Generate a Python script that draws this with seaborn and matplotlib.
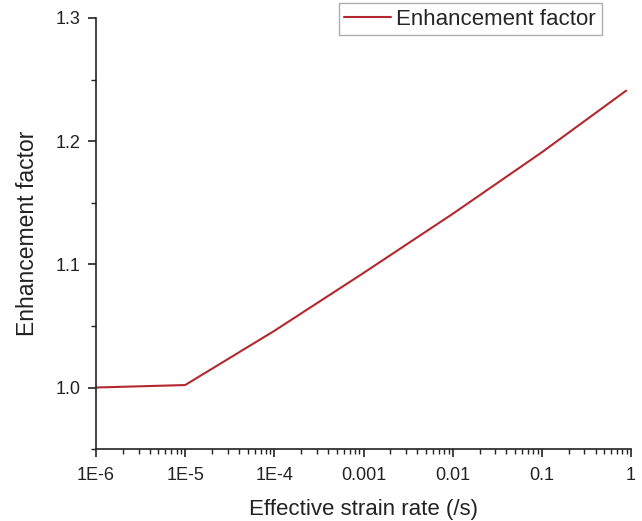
import matplotlib
matplotlib.use("Agg")
import matplotlib.pyplot as plt
import seaborn as sns
import pandas as pd
from matplotlib.ticker import LogLocator, MultipleLocator, NullFormatter

strain_rate = [1e-6, 1e-5, 1e-4, 1e-3, 1e-2, 1e-1, 0.88]
factor = [1.000, 1.002, 1.046, 1.093, 1.141, 1.191, 1.241]
xtick_vals = [1e-6, 1e-5, 1e-4, 1e-3, 1e-2, 1e-1, 1]
xtick_labels = ["1E-6", "1E-5", "1E-4", "0.001", "0.01", "0.1", "1"]
ytick_vals = [1.0, 1.1, 1.2, 1.3]
ytick_labels = ["1.0", "1.1", "1.2", "1.3"]

sns.set_style("ticks")
plt.rcParams['font.family'] = ['Liberation Sans', 'DejaVu Sans']

df = pd.DataFrame({"rate": strain_rate, "factor": factor, "series": "Enhancement factor"})

fig = plt.figure(figsize=(6.42, 5.21), dpi=100)
ax = fig.add_axes([0.1495, 0.138, 0.8335, 0.8275])
sns.lineplot(data=df, x="rate", y="factor", hue="series", palette=["#B3282E"],
             linewidth=1.5, ax=ax)
ax.set_xscale("log")
ax.set_xlim(1e-6, 1)
ax.set_ylim(0.95, 1.3)
ax.set_xticks(xtick_vals)
ax.set_xticklabels(xtick_labels)
ax.xaxis.set_minor_locator(LogLocator(base=10, subs=range(2, 10), numticks=20))
ax.xaxis.set_minor_formatter(NullFormatter())
ax.set_yticks(ytick_vals)
ax.set_yticklabels(ytick_labels)
ax.yaxis.set_minor_locator(MultipleLocator(0.05))

for s in ["top", "right"]:
    ax.spines[s].set_visible(False)
for s in ["left", "bottom"]:
    ax.spines[s].set_linewidth(1.2)
    ax.spines[s].set_color("#222222")

ax.tick_params(axis="both", which="major", direction="out", length=6, width=1.2,
               labelsize=13, colors="#222222", pad=5)
ax.tick_params(axis="both", which="minor", direction="out", length=3.5, width=1.0,
               colors="#222222")
ax.tick_params(axis="x", which="major", pad=7)

ax.set_xlabel("Effective strain rate (/s)", fontsize=16, labelpad=11, color="#222222")
ax.set_ylabel("Enhancement factor", fontsize=16.5, labelpad=12, color="#222222")

leg = ax.legend(loc="upper right", bbox_to_anchor=(0.937, 0.994),
                bbox_transform=fig.transFigure, fontsize=16, frameon=True,
                fancybox=False, edgecolor="#999999", borderpad=0.25,
                handlelength=2.1, handletextpad=0.25, borderaxespad=0)
leg.get_frame().set_linewidth(1.0)

fig.savefig("out.png", dpi=100)
